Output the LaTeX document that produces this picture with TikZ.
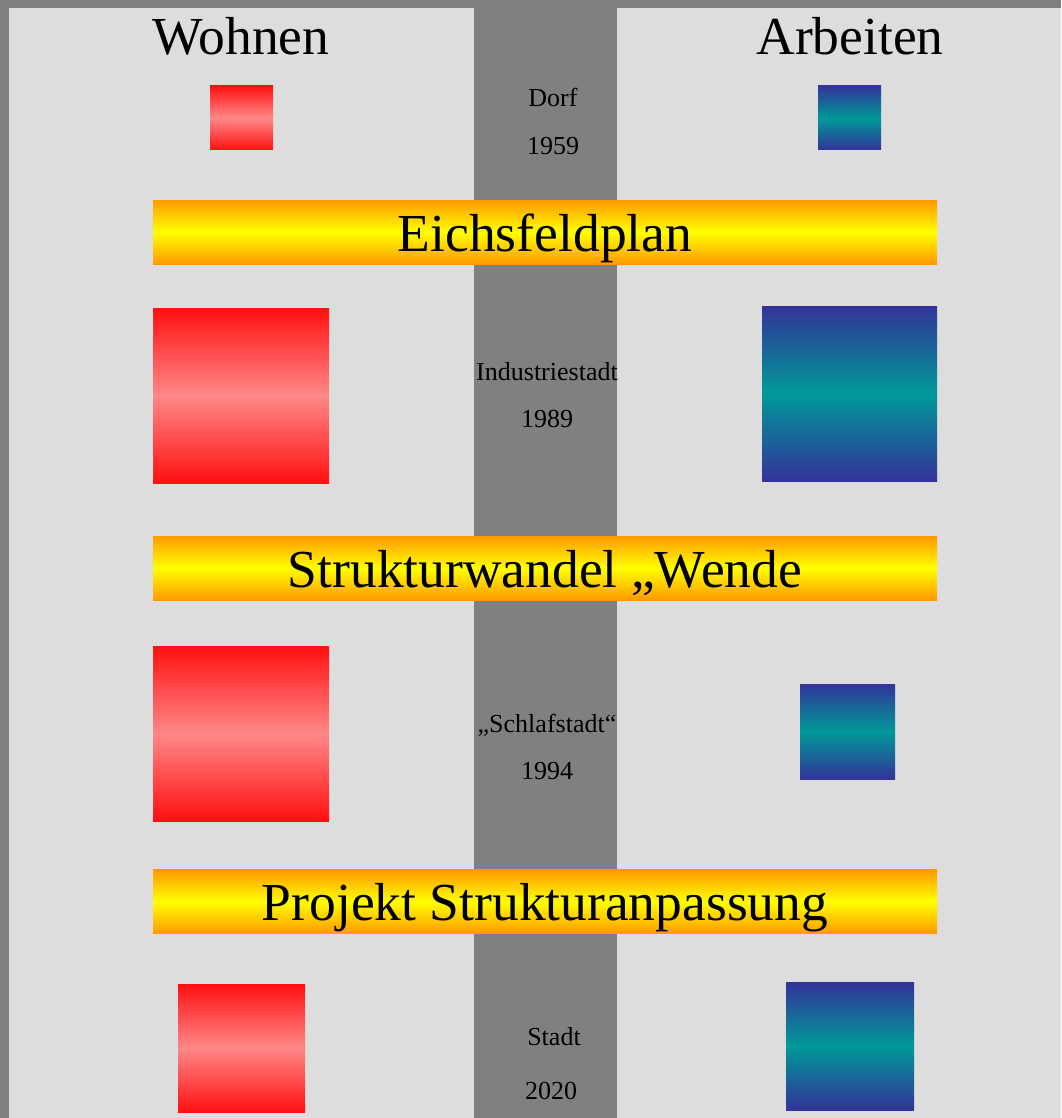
\documentclass[tikz,border=0pt]{standalone}
\usepackage{fontspec}
\setmainfont{Liberation Serif}
\usepackage{xcolor}
\usetikzlibrary{positioning}
\definecolor{framegray}{RGB}{128,128,128}
\definecolor{pagegray}{RGB}{221,221,221}
\definecolor{wohnred}{RGB}{255,16,16}
\definecolor{wohnlight}{RGB}{255,136,136}
\definecolor{arbeitblue}{RGB}{51,51,153}
\definecolor{arbeitteal}{RGB}{0,153,153}
\definecolor{phaseorange}{RGB}{255,153,0}
\definecolor{phaseyellow}{RGB}{255,255,0}

\tikzset{
	wohnbox/.style={rectangle, inner sep=0pt, outer sep=0pt,
		top color=wohnred, bottom color=wohnred, middle color=wohnlight},
	arbeitbox/.style={rectangle, inner sep=0pt, outer sep=0pt,
		top color=arbeitblue, bottom color=arbeitblue, middle color=arbeitteal},
	phasebar/.style={rectangle, inner sep=0pt, outer sep=0pt,
		minimum width=784pt, minimum height=64pt,
		top color=phaseorange, bottom color=phaseorange, middle color=phaseyellow},
	headline/.style={anchor=base, font=\fontsize{53.5}{60}\selectfont},
	phasetext/.style={anchor=base, font=\fontsize{53.5}{60}\selectfont},
	stagetext/.style={anchor=base, font=\fontsize{26}{30}\selectfont}
}

\begin{document}
\begin{tikzpicture}[x=1pt, y=-1pt]
\useasboundingbox (0,0) rectangle (1061,1118);
\fill[framegray] (0,0) rectangle (1061,1118);
\fill[pagegray] (9,8) rectangle (1061,1118);
\fill[framegray] (474,8) rectangle (617,1118);

% Headlines
\node[headline] (wohnen) at (241,55) {Wohnen};
\node[headline] (arbeiten) at (850,55) {Arbeiten};

% Stage 1
\node[wohnbox, minimum width=63pt, minimum height=64pt] (wohnen-1) at (241.5,118) {};
\node[arbeitbox, minimum width=63pt, minimum height=64pt] (arbeiten-1) at (849.5,118) {};
\node[stagetext] (stage-1) at (553,107) {Dorf};
\node[stagetext] (year-1) at (553,155) {1959};

\node[phasebar] (phase-1) at (545,232) {};
\node[phasetext] (phasetext-1) at (545,251) {Eichsfeldplan};

% Stage 2
\node[wohnbox, minimum width=176pt, minimum height=175pt] (wohnen-2) at (241,395.5) {};
\node[arbeitbox, minimum width=175pt, minimum height=175pt] (arbeiten-2) at (849.5,393.5) {};
\node[stagetext] (stage-2) at (547,380) {Industriestadt};
\node[stagetext] (year-2) at (547,427) {1989};

\node[phasebar] (phase-2) at (545,568) {};
\node[phasetext] (phasetext-2) at (545,587) {Strukturwandel „Wende};

% Stage 3
\node[wohnbox, minimum width=176pt, minimum height=175pt] (wohnen-3) at (241,733.5) {};
\node[arbeitbox, minimum width=95pt, minimum height=95pt] (arbeiten-3) at (847.5,731.5) {};
\node[stagetext] (stage-3) at (547,732) {„Schlafstadt“};
\node[stagetext] (year-3) at (547,779) {1994};

\node[phasebar] (phase-3) at (545,901.5) {};
\node[phasetext] (phasetext-3) at (545,920) {Projekt Strukturanpassung};

% Stage 4
\node[wohnbox, minimum width=127pt, minimum height=128pt] (wohnen-4) at (241.5,1048) {};
\node[arbeitbox, minimum width=128pt, minimum height=128pt] (arbeiten-4) at (850,1046) {};
\node[stagetext] (stage-4) at (554,1045) {Stadt};
\node[stagetext] (year-4) at (551,1099) {2020};

\end{tikzpicture}
\end{document}
